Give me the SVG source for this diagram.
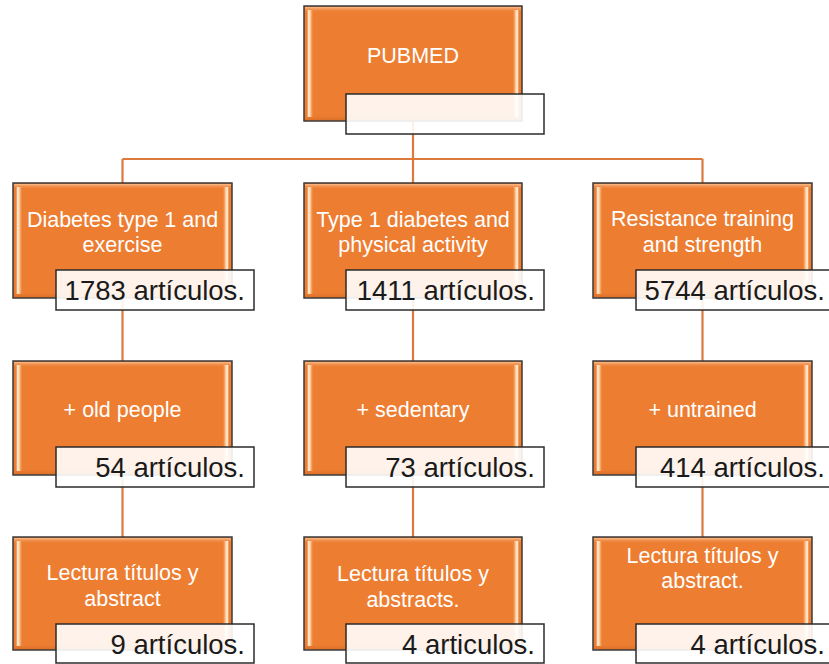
<svg xmlns="http://www.w3.org/2000/svg" width="829" height="664" viewBox="0 0 829 664">
<defs>
<linearGradient id="bevH" x1="0" y1="0" x2="1" y2="0">
<stop offset="0" stop-color="#ffe6c4" stop-opacity="0"/>
<stop offset="0.008" stop-color="#fff6e6" stop-opacity="1"/>
<stop offset="0.018" stop-color="#ffc994" stop-opacity="0.85"/>
<stop offset="0.032" stop-color="#ed7d31" stop-opacity="0"/>
<stop offset="0.968" stop-color="#ed7d31" stop-opacity="0"/>
<stop offset="0.982" stop-color="#ffc994" stop-opacity="0.85"/>
<stop offset="0.992" stop-color="#fff6e6" stop-opacity="1"/>
<stop offset="1" stop-color="#ffe6c4" stop-opacity="0"/>
</linearGradient>
<linearGradient id="bevV" x1="0" y1="0" x2="0" y2="1">
<stop offset="0" stop-color="#ffd7b0" stop-opacity="0.7"/>
<stop offset="0.05" stop-color="#ed7d31" stop-opacity="0"/>
<stop offset="0.95" stop-color="#ed7d31" stop-opacity="0"/>
<stop offset="1" stop-color="#c9641f" stop-opacity="0.5"/>
</linearGradient>
</defs>
<style>
.box{fill:#ed7d31;stroke:#3a3a3a;stroke-width:1.5}
.bh{fill:url(#bevH)}
.bv{fill:url(#bevV)}
.lab{fill:#ffffff;fill-opacity:0.9;stroke:#2b2b2b;stroke-width:1.5}
.t{font-family:"Liberation Sans",Arial,sans-serif;font-size:21.5px;fill:#ffffff;text-anchor:middle}
.n{font-family:"Liberation Sans",Arial,sans-serif;font-size:27.5px;fill:#1a1a1a;text-anchor:end}
.c{fill:none;stroke:#db7a3c;stroke-width:2.2}
</style>
<rect width="829" height="664" fill="#ffffff"/>
<g id="connectors">
<path class="c" d="M413,121 V159 M122.5,159 H702.5 M122.5,159 V183 M413,159 V183 M702.5,159 V183"/>
<path class="c" d="M122.5,298 V361 M413,298 V361 M702.5,298 V361"/>
<path class="c" d="M122.5,475 V537 M413,475 V537 M702.5,475 V537"/>
</g>
<g id="pubmed">
<rect class="box" x="304" y="6" width="218" height="115"/>
<rect class="bv" x="305" y="7" width="216" height="113"/>
<rect class="bh" x="307" y="10" width="212" height="107"/>
<text class="t" x="413" y="63">PUBMED</text>
<rect class="lab" x="346" y="94" width="198" height="40"/>
</g>
<g id="n1a">
<rect class="box" x="13" y="183" width="219" height="115"/>
<rect class="bv" x="14" y="184" width="217" height="113"/>
<rect class="bh" x="16" y="187" width="213" height="107"/>
<text class="t" x="122.5" y="227">Diabetes type 1 and</text>
<text class="t" x="122.5" y="252">exercise</text>
<rect class="lab" x="56" y="270" width="198" height="40"/>
<text class="n" x="245" y="300">1783 artículos.</text>
</g>
<g id="n1b">
<rect class="box" x="304" y="183" width="218" height="115"/>
<rect class="bv" x="305" y="184" width="216" height="113"/>
<rect class="bh" x="307" y="187" width="212" height="107"/>
<text class="t" x="413" y="227">Type 1 diabetes and</text>
<text class="t" x="413" y="252">physical activity</text>
<rect class="lab" x="346" y="270" width="198" height="40"/>
<text class="n" x="535" y="300">1411 artículos.</text>
</g>
<g id="n1c">
<rect class="box" x="593" y="183" width="219" height="115"/>
<rect class="bv" x="594" y="184" width="217" height="113"/>
<rect class="bh" x="596" y="187" width="213" height="107"/>
<text class="t" x="702.5" y="226">Resistance training</text>
<text class="t" x="702.5" y="252">and strength</text>
<rect class="lab" x="636" y="270" width="198" height="40"/>
<text class="n" x="825" y="300">5744 artículos.</text>
</g>
<g id="n2a">
<rect class="box" x="13" y="361" width="219" height="114"/>
<rect class="bv" x="14" y="362" width="217" height="112"/>
<rect class="bh" x="16" y="365" width="213" height="106"/>
<text class="t" x="122.5" y="417">+ old people</text>
<rect class="lab" x="56" y="447" width="198" height="40"/>
<text class="n" x="245" y="477">54 artículos.</text>
</g>
<g id="n2b">
<rect class="box" x="304" y="361" width="218" height="114"/>
<rect class="bv" x="305" y="362" width="216" height="112"/>
<rect class="bh" x="307" y="365" width="212" height="106"/>
<text class="t" x="413" y="417">+ sedentary</text>
<rect class="lab" x="346" y="447" width="198" height="40"/>
<text class="n" x="535" y="477">73 artículos.</text>
</g>
<g id="n2c">
<rect class="box" x="593" y="361" width="219" height="114"/>
<rect class="bv" x="594" y="362" width="217" height="112"/>
<rect class="bh" x="596" y="365" width="213" height="106"/>
<text class="t" x="702.5" y="417">+ untrained</text>
<rect class="lab" x="636" y="447" width="198" height="40"/>
<text class="n" x="825" y="477">414 artículos.</text>
</g>
<g id="n3a">
<rect class="box" x="13" y="537" width="219" height="113"/>
<rect class="bv" x="14" y="538" width="217" height="111"/>
<rect class="bh" x="16" y="541" width="213" height="105"/>
<text class="t" x="122.5" y="580">Lectura títulos y</text>
<text class="t" x="122.5" y="606">abstract</text>
<rect class="lab" x="56" y="624" width="198" height="39"/>
<text class="n" x="245" y="654">9 artículos.</text>
</g>
<g id="n3b">
<rect class="box" x="304" y="537" width="218" height="113"/>
<rect class="bv" x="305" y="538" width="216" height="111"/>
<rect class="bh" x="307" y="541" width="212" height="105"/>
<text class="t" x="413" y="581">Lectura títulos y</text>
<text class="t" x="413" y="607">abstracts.</text>
<rect class="lab" x="346" y="624" width="198" height="39"/>
<text class="n" x="535" y="654">4 articulos.</text>
</g>
<g id="n3c">
<rect class="box" x="593" y="537" width="219" height="113"/>
<rect class="bv" x="594" y="538" width="217" height="111"/>
<rect class="bh" x="596" y="541" width="213" height="105"/>
<text class="t" x="702.5" y="563">Lectura títulos y</text>
<text class="t" x="702.5" y="588">abstract.</text>
<rect class="lab" x="636" y="624" width="198" height="39"/>
<text class="n" x="825" y="654">4 artículos.</text>
</g>
</svg>
